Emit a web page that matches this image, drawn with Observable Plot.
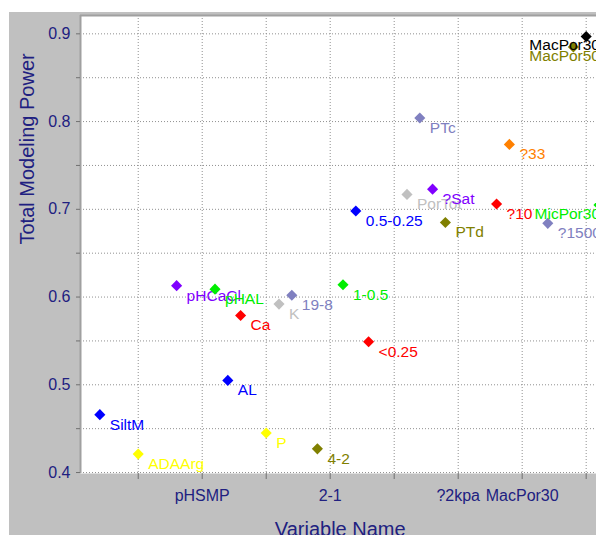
<!DOCTYPE html>
<html>
<head>
<meta charset="utf-8">
<script src="https://cdn.jsdelivr.net/npm/d3@7"></script>
<script src="https://cdn.jsdelivr.net/npm/@observablehq/plot@0.6"></script>
<style>
  html, body { margin: 0; padding: 0; background: white; }
  #wrap { position: relative; width: 596px; height: 535px; overflow: hidden; background: white; }
  #chart { position: absolute; left: 9px; top: 12px; }
</style>
</head>
<body>
<div id="wrap"><div id="chart"></div></div>
<script>
// ---- data ----
const names = ["SiltM","ADAArg","pHCaCl","pHAL","AL","Ca","P","K","19-8","4-2","1-0.5","0.5-0.25","<0.25","PorTot","PTc","?Sat","PTd","?10","?33","?1500","MacPor50","MacPor30","MicPor30"];
const positions = [2,5,8,11,12,13,15,16,17,19,21,22,23,26,27,28,29,33,34,37,39,40,41];
const values = [0.466,0.421,0.613,0.609,0.505,0.579,0.445,0.592,0.602,0.427,0.614,0.698,0.549,0.717,0.804,0.723,0.685,0.706,0.774,0.684,0.885,0.897,0.705];
const colors = ["#0000ff","#ffff00","#8000ff","#00ee00","#0000ff","#ff0000","#ffff00","#c0c0c0","#8080c0","#808000","#00ee00","#0000ff","#ff0000","#c0c0c0","#8080c0","#8000ff","#808000","#ff0000","#ff8000","#8080c0","#808000","#000000","#00ee00"];
const edgeLabels = ["MacPor50","MacPor30","MicPor30"]; // labels pushed left to fit the frame

const xTickPositions = [5,10,15,20,25,30,35,40];
const xTickLabelPositions = [10,20,30,35];
const xTickLabels = ["pHSMP","2-1","?2kpa","MacPor30"];
const yTicks = [0.4,0.45,0.5,0.55,0.6,0.65,0.7,0.75,0.8,0.85,0.9];
const yTickLabels = ["0.4","","0.5","","0.6","","0.7","","0.8","","0.9"];
const xDomain = [0.49, 41.08];
const yDomain = [0.3989, 0.9209];

const points = names.map((n, i) => ({name: n, pos: positions[i], value: values[i], color: colors[i]}));
const xLabelMap = new Map(xTickLabelPositions.map((p, i) => [p, xTickLabels[i]]));
const yLabelMap = new Map(yTicks.map((t, i) => [t, yTickLabels[i]]));

const navy = "#202080";
const labelFont = 15.5;

const pointMarks = points.flatMap(p => {
  const isEdge = edgeLabels.includes(p.name);
  return [
    Plot.dot([p], {x: "pos", y: "value", symbol: "diamond2", r: 5, fill: "color", stroke: "none"}),
    isEdge
      ? Plot.text([p], {y: "value", text: "name", fill: "color", frameAnchor: "right", textAnchor: "end", lineAnchor: "middle", dy: 9, fontSize: labelFont})
      : Plot.text([p], {x: "pos", y: "value", text: "name", fill: "color", textAnchor: "start", lineAnchor: "middle", dx: 10, dy: 10, fontSize: labelFont})
  ];
});

const chart = Plot.plot({
  width: 624,
  height: 523,
  marginLeft: 71,
  marginTop: 3,
  marginRight: 33.5,
  marginBottom: 62,
  style: {background: "#c0c0c0", fontFamily: "'Liberation Sans', Arial, sans-serif", maxWidth: "none", overflow: "visible"},
  x: {domain: xDomain, type: "linear"},
  y: {domain: yDomain, type: "linear"},
  color: {type: "identity"},
  marks: [
    Plot.frame({fill: "white", stroke: "none"}),
    Plot.gridY(yTicks, {stroke: "#909090", strokeOpacity: 1, strokeDasharray: "1,2"}),
    Plot.gridX(xTickPositions, {stroke: "#909090", strokeOpacity: 1, strokeDasharray: "1,2"}),
    Plot.ruleX([xDomain[0]], {stroke: "#a0a0a0", strokeWidth: 2}),
    Plot.ruleY([yDomain[1]], {stroke: "#a0a0a0", strokeWidth: 2}),
    Plot.axisY(yTicks, {tickSize: 4, tickPadding: 6, tickFormat: d => yLabelMap.get(d) ?? "", stroke: "#707070", fill: navy, fontSize: 16, label: null}),
    Plot.axisX(xTickPositions, {tickSize: 6, tickPadding: 10, tickFormat: d => xLabelMap.get(d) ?? "", stroke: "#707070", fill: navy, fontSize: 16, label: null}),
    Plot.text(["Total Modeling Power"], {text: d => d, frameAnchor: "left", rotate: -90, dx: -53, lineAnchor: "middle", fontSize: 20, fill: navy}),
    Plot.text(["Variable Name"], {text: d => d, frameAnchor: "bottom", dy: 56, lineAnchor: "middle", fontSize: 20, fill: navy}),
    ...pointMarks
  ]
});
document.getElementById("chart").appendChild(chart);
</script>
</body>
</html>
